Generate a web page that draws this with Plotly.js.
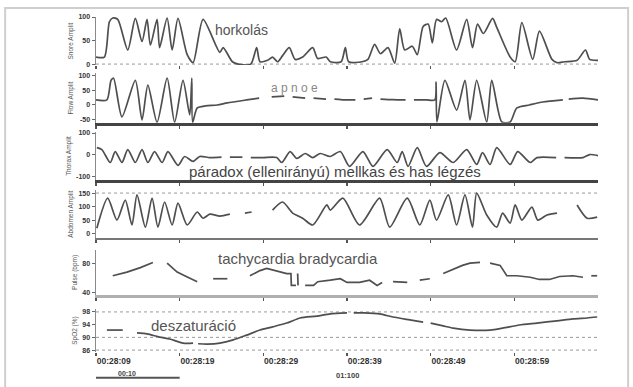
<!DOCTYPE html>
<html><head><meta charset="utf-8">
<script src="https://cdn.plot.ly/plotly-3.0.1.min.js"></script>
<style>html,body{margin:0;padding:0;background:#fff;}#chart{width:633px;height:387px;}</style>
</head><body><div id="chart"></div>
<script>
// ---- data (seconds from start of window) ----
const tickSecs = [0, 10, 20, 30, 40, 50];
const timeLabels = ['00:28:09', '00:28:19', '00:28:29', '00:28:39', '00:28:49', '00:28:59'];

// horkolás (snoring amplitude)
const snoreT = [0,1.0,1.6,2.0,2.6,3.8,4.7,5.5,6.1,6.5,7.3,7.6,8.5,9.1,9.8,10.9,11.6,12.8,14.8,15.2,16.3,17,18.5,19.2,19.6,20.5,21.1,21.7,22.3,23.1,23.8,24.7,25.9,26.5,27.5,28.0,29.3,29.8,30.2,31.8,32.5,33.3,34.0,34.9,35.7,36.3,36.9,37.8,38.4,39.1,39.7,40.2,40.7,41.3,41.8,43.1,44.3,45.0,45.6,46.3,47.4,47.9,49.5,50.1,50.9,52.2,53.0,54.5,55.1,56,57.5,58.5,59.0,60];
const snoreV = [15,15,90,98,95,30,97,48,95,40,95,35,98,30,97,20,3,95,25,35,5,0,0,35,5,8,15,5,18,35,10,15,35,12,15,5,5,35,5,5,10,42,22,35,2,75,30,38,20,80,85,45,95,90,98,30,95,35,85,65,97,78,15,5,88,10,70,10,3,5,8,30,10,8];

// apnoe (airflow)
const flowT = [0,1.3,1.8,2.1,3.1,4.7,5.5,6.2,7.3,8.5,9.4,10.4,11.2,11.45,11.55,12.1,13.1,14.5,15.7,18,19.5,null,21,22.5,null,23.5,25,null,26,27.5,null,28.5,30,31,null,32,33,null,34,35.5,37,null,38,39.5,40.5,40.65,40.75,41.7,43.1,44.1,44.7,45.5,46.7,47.3,48.5,49.5,50.3,51.8,53.4,55.8,null,56.5,58.2,60];
const flowV = [17,17,83,90,-40,83,-50,67,-58,90,-58,83,-33,90,-58,-10,-3,0,7,17,23,null,27,30,null,27,23,null,23,20,null,20,17,17,null,20,23,null,20,18,17,null,17,17,17,77,-57,83,-17,83,-50,83,-57,83,-57,-57,-10,0,10,17,null,20,23,17];

// mellkas (thorax effort)
const thoraxT = [0.1,0.7,1.7,2.3,3.1,3.8,4.7,5.5,6.2,7.0,7.9,8.6,9.8,10.6,11.6,12.4,13.6,15,null,16,17.5,null,18.5,20,21.6,22.2,23.2,24,25,25.9,26.8,28,29.2,30.3,31.9,33.1,34.8,36,36.6,37.3,38.4,39.5,41.1,42.7,44.3,45.5,46.2,47.1,47.9,49.5,50.4,51.9,52.7,55,null,56,58.2,59,60];
const thoraxV = [32,23,-37,14,-37,23,-37,23,-37,14,-37,14,-50,-9,-32,-9,-14,-12,null,-12,-12,null,-14,-14,-14,-37,14,-18,5,-14,5,-9,14,-55,14,-55,23,-37,14,-55,32,-55,9,-37,23,-46,9,-46,32,-46,14,-37,-14,-14,null,-14,-14,0,-5];

// has (abdominal effort)
const abdT = [0.1,1.4,2.5,3.5,4.3,4.9,5.9,6.7,7.4,8.2,9.1,9.8,10.9,12.1,12.8,13.6,14.8,16,null,17.8,18.6,null,21.1,22.3,23.5,24.7,25.9,27.6,28,29.5,31.5,33.9,35.1,37.2,38.7,39.9,40.7,42.1,43.1,44.1,45,45.5,46.7,47.9,48.6,49.5,50.1,50.9,52.1,52.8,53.9,55.1,null,57.5,58.7,59.9];
const abdV = [20,131,50,124,32,143,24,131,24,117,32,113,32,80,57,72,65,72,null,76,80,null,87,117,76,57,32,106,87,131,32,131,24,131,32,124,50,143,32,143,24,150,69,24,76,39,106,50,98,50,69,76,null,106,57,61];

// pulzus (heart rate, bpm)
const hrT = [2.0,3.7,5.3,6.8,null,8.5,9.7,10.6,11.6,12.1,null,14,15.7,null,18.4,19.6,20.4,21.5,22.8,23.3,23.35,23.9,null,24.1,24.15,null,25.0,26.0,26.5,27.5,28,29.2,30,31.5,32.7,33.6,34.2,null,35.5,37.2,null,38.7,39.9,null,41.5,42.3,43.1,43.8,44.7,45.9,null,47.1,48.3,49.1,50.3,51.9,53,54.2,55.4,57,58.2,null,59.2,59.9];
const hrV = [63,68,74,81,null,80,68,63,57,55,null,59,59,null,63,70,73,70,66,66,50,50,null,66,50,null,50,50,55,57,57,59,54,54,57,50,54,null,55,54,null,57,59,null,66,70,73,77,80,81,null,80,77,63,63,61,58,58,62,63,61,null,63,63];

// SpO2 (%)
const spo2T = [1.3,3.2,null,4.9,6.1,7.6,8.8,10.4,11.6,null,12.2,13.3,14.8,16.4,18,19.6,21.1,22.8,24.4,26.4,28,30,null,30.8,32,33.9,35.5,37.5,39.1,null,40,41.5,42.7,44.7,47.1,48.6,50.6,52.7,55.1,57,58.7,59.9];
const spo2V = [92.3,92.3,null,91.4,91.1,90.1,89.5,88.2,88.2,null,88.0,87.9,88.2,89.2,90.7,92.3,93.3,94.5,96.1,96.7,97.4,97.7,null,97.7,97.7,97.4,96.4,95.5,94.8,null,94.5,93.6,92.9,92.3,92.3,92.9,93.9,94.5,95.2,95.8,96.1,96.4];

// axis tick labels
const snoreTicks = [0, 50, 100];
const flowTicks = [100, 50, 0, -50];
const thoraxTicks = [100, 0, -100];
const abdTicks = [150, 100, 50, 0];
const hrTicks = [80, 40];
const spo2Ticks = [98, 94, 90, 86];
const axisNames = ['Snore Amplit', 'Flow Amplit', 'Thorax Amplit', 'Abdomen Amplit', 'Pulse (bpm)', 'SpO2 (%)'];

// ---- build ----
const series = [[snoreT, snoreV], [flowT, flowV], [thoraxT, thoraxV], [abdT, abdV], [hrT, hrV], [spo2T, spo2V]];
const smooth = [true, true, true, true, false, true];
const traces = series.map((s, i) => ({
  type: 'scatter', mode: 'lines', x: s[0], y: s[1],
  xaxis: i === 0 ? 'x' : 'x' + (i + 1), yaxis: i === 0 ? 'y' : 'y' + (i + 1),
  line: {color: '#4f4f4f', width: 1.7, shape: smooth[i] ? 'spline' : 'linear', smoothing: 0.7},
  connectgaps: false, hoverinfo: 'skip', showlegend: false
}));

const FONT = 'Liberation Sans, Arial, sans-serif';
const domains = [[0.849, 0.991], [0.678, 0.825], [0.509, 0.651], [0.337, 0.479], [0.169, 0.302], [0.0, 0.127]];
const ranges = [[-2, 100], [-60, 107], [-118, 105], [-16.5, 161], [37.2, 97.9], [85.4, 98.9]];
const ticks = [snoreTicks, flowTicks, thoraxTicks, abdTicks, hrTicks, spo2Ticks];
const baseLines = [
  {show: false, w: 1, c: '#888'},
  {show: true, w: 3, c: '#444'},
  {show: true, w: 3, c: '#444'},
  {show: true, w: 1.5, c: '#777'},
  {show: true, w: 3.5, c: '#b0b0b0'},
  {show: false, w: 1, c: '#888'}
];

const layout = {
  width: 633, height: 387,
  margin: {l: 96, r: 35, t: 14, b: 35},
  paper_bgcolor: '#fff', plot_bgcolor: 'rgba(0,0,0,0)',
  font: {family: FONT, color: '#444'},
  showlegend: false,
  shapes: [], annotations: []
};

for (let i = 0; i < 6; i++) {
  const xn = i === 0 ? 'xaxis' : 'xaxis' + (i + 1);
  const yn = i === 0 ? 'yaxis' : 'yaxis' + (i + 1);
  const last = i === 5;
  layout[xn] = {
    domain: [0, 1], range: [0, 60], anchor: i === 0 ? 'y' : 'y' + (i + 1),
    showgrid: false, zeroline: false,
    showline: baseLines[i].show, linecolor: baseLines[i].c, linewidth: baseLines[i].w,
    tickvals: tickSecs, ticktext: timeLabels, showticklabels: last,
    ticks: 'outside', ticklen: 3, tickcolor: '#555', tickwidth: 1.5,
    ticklabelposition: 'outside right', ticklabelstandoff: 1,
    tickfont: {family: FONT, size: 8.5, color: '#333', weight: 'bold'}
  };
  layout[yn] = {
    domain: domains[i], range: ranges[i], anchor: i === 0 ? 'x' : 'x' + (i + 1),
    showgrid: false, zeroline: false,
    showline: true, linecolor: '#8a8a8a', linewidth: 1.5,
    tickvals: ticks[i], ticktext: ticks[i].map(String),
    ticks: 'outside', ticklen: 3, tickcolor: '#666',
    tickfont: {family: FONT, size: 7, color: '#333', weight: 'bold'},
    title: {text: axisNames[i], font: {family: FONT, size: 6.5, color: '#555'}, standoff: 4}
  };
}

// dotted reference lines
const dotted = [['y', 0], ['y4', 150], ['y6', 98], ['y6', 90], ['y6', 86]];
dotted.forEach(d => layout.shapes.push({
  type: 'line', xref: 'paper', x0: 0, x1: 1, yref: d[0], y0: d[1], y1: d[1],
  line: {color: '#9a9a9a', width: 1, dash: 'dot'}, layer: 'below'
}));
// outer frame
layout.shapes.push({type: 'rect', xref: 'paper', yref: 'paper', x0: -0.181, x1: 1.06, y0: -0.14, y1: 1.018,
  line: {color: '#cfcfcf', width: 2}, fillcolor: 'rgba(0,0,0,0)'});
// 10 s scale bar under the first time label
layout.shapes.push({type: 'line', xref: 'x6', x0: 0, x1: 10, yref: 'paper', y0: -0.076, y1: -0.076,
  line: {color: '#555', width: 2}});

const ann = (text, x, y, size, color, extra) => Object.assign({
  text: text, xref: 'paper', yref: 'paper', x: x, y: y, showarrow: false,
  xanchor: 'center', yanchor: 'middle', font: {family: FONT, size: size, color: color}
}, extra || {});
layout.annotations.push(ann('horkolás', 0.29, 0.953, 14, '#555'));
layout.annotations.push(ann('a p n o e', 0.396, 0.781, 12, '#888'));
layout.annotations.push(ann('páradox (ellenirányú) mellkas és has légzés', 0.476, 0.535, 15, '#444'));
layout.annotations.push(ann('tachycardia bradycardia', 0.402, 0.278, 15, '#555'));
layout.annotations.push(ann('deszaturáció', 0.195, 0.077, 15, '#555'));
layout.annotations.push(ann('00:10', 0.062, -0.046, 7, '#444', {yanchor: 'top', font: {family: FONT, size: 7, color: '#444', weight: 'bold'}}));
layout.annotations.push(ann('01:100', 0.5, -0.07, 7.5, '#444', {font: {family: FONT, size: 7.5, color: '#444', weight: 'bold'}}));

Plotly.newPlot('chart', traces, layout, {staticPlot: true, displayModeBar: false});
</script></body></html>
